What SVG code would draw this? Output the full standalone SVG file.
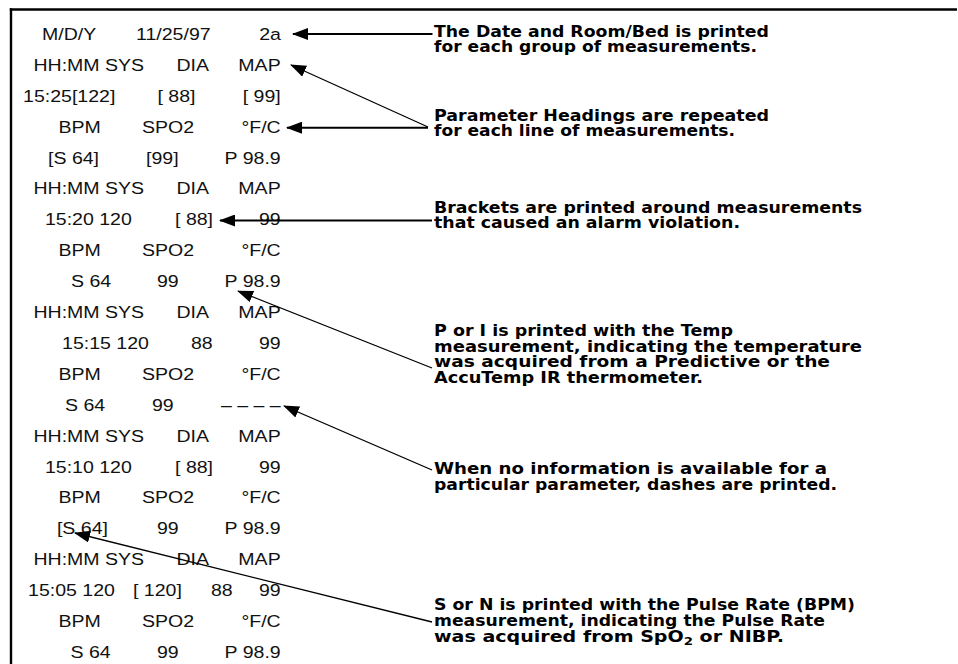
<svg xmlns="http://www.w3.org/2000/svg" width="958" height="664" viewBox="0 0 958 664">
<style>
.pt{font-family:"Liberation Sans",Arial,sans-serif;font-size:17.3px;fill:#111}
.e{text-anchor:end}
.an{font-family:"DejaVu Sans","Liberation Sans",sans-serif;font-size:15px;font-weight:bold;fill:#000}
.frame{stroke:#000;stroke-width:2.4;fill:none}
.h{stroke:#000;stroke-width:2;fill:none}
.d{stroke:#000;stroke-width:1.3;fill:none}
</style>
<defs>
<marker id="ah" viewBox="0 0 16 12" refX="15" refY="6" markerWidth="16" markerHeight="12" markerUnits="userSpaceOnUse" orient="auto-start-reverse">
<path d="M0,0 L16,6 L0,12 z" fill="#000"/>
</marker>
</defs>
<rect width="958" height="664" fill="#fff"/>
<g id="frame">
<line class="frame" x1="9.8" y1="9.5" x2="957" y2="9.5"/>
<line class="frame" x1="11" y1="8.3" x2="11" y2="664"/>
</g>
<g id="printout" transform="scale(1.13 1)">
<g id="row0"><text class="pt" x="37.2" y="40">M/D/Y</text><text class="pt" x="120.4" y="40">11/25/97</text><text class="pt e" x="248.6" y="40">2a</text></g>
<g id="row1"><text class="pt" x="29.6" y="70.9">HH:MM SYS</text><text class="pt" x="156.2" y="70.9">DIA</text><text class="pt e" x="248.4" y="70.9">MAP</text></g>
<g id="row2"><text class="pt" x="20.4" y="101.8">15:25[122]</text><text class="pt" x="139.4" y="101.8">[ 88]</text><text class="pt e" x="248.4" y="101.8">[ 99]</text></g>
<g id="row3"><text class="pt" x="51.8" y="132.7">BPM</text><text class="pt" x="125.7" y="132.7">SPO2</text><text class="pt e" x="248.4" y="132.7">°F/C</text></g>
<g id="row4"><text class="pt" x="42.5" y="163.6">[S 64]</text><text class="pt" x="129.2" y="163.6">[99]</text><text class="pt e" x="248.4" y="163.6">P 98.9</text></g>
<g id="row5"><text class="pt" x="29.6" y="194.5">HH:MM SYS</text><text class="pt" x="156.2" y="194.5">DIA</text><text class="pt e" x="248.4" y="194.5">MAP</text></g>
<g id="row6"><text class="pt" x="39.8" y="225.4">15:20 120</text><text class="pt" x="154.9" y="225.4">[ 88]</text><text class="pt e" x="248.4" y="225.4">99</text></g>
<g id="row7"><text class="pt" x="51.8" y="256.3">BPM</text><text class="pt" x="125.7" y="256.3">SPO2</text><text class="pt e" x="248.4" y="256.3">°F/C</text></g>
<g id="row8"><text class="pt" x="62.8" y="287.2">S 64</text><text class="pt" x="138.9" y="287.2">99</text><text class="pt e" x="248.4" y="287.2">P 98.9</text></g>
<g id="row9"><text class="pt" x="29.6" y="318.1">HH:MM SYS</text><text class="pt" x="156.2" y="318.1">DIA</text><text class="pt e" x="248.4" y="318.1">MAP</text></g>
<g id="row10"><text class="pt" x="54.9" y="349">15:15 120</text><text class="pt" x="169" y="349">88</text><text class="pt e" x="248.4" y="349">99</text></g>
<g id="row11"><text class="pt" x="51.8" y="379.9">BPM</text><text class="pt" x="125.7" y="379.9">SPO2</text><text class="pt e" x="248.4" y="379.9">°F/C</text></g>
<g id="row12"><text class="pt" x="57.5" y="410.8">S 64</text><text class="pt" x="134.5" y="410.8">99</text><text class="pt e" x="248.4" y="410.8">– – – –</text></g>
<g id="row13"><text class="pt" x="29.6" y="441.7">HH:MM SYS</text><text class="pt" x="156.2" y="441.7">DIA</text><text class="pt e" x="248.4" y="441.7">MAP</text></g>
<g id="row14"><text class="pt" x="39.8" y="472.6">15:10 120</text><text class="pt" x="154.9" y="472.6">[ 88]</text><text class="pt e" x="248.4" y="472.6">99</text></g>
<g id="row15"><text class="pt" x="51.8" y="503.5">BPM</text><text class="pt" x="125.7" y="503.5">SPO2</text><text class="pt e" x="248.4" y="503.5">°F/C</text></g>
<g id="row16"><text class="pt" x="50.4" y="534.4">[S 64]</text><text class="pt" x="138.9" y="534.4">99</text><text class="pt e" x="248.4" y="534.4">P 98.9</text></g>
<g id="row17"><text class="pt" x="29.6" y="565.3">HH:MM SYS</text><text class="pt" x="156.2" y="565.3">DIA</text><text class="pt e" x="248.4" y="565.3">MAP</text></g>
<g id="row18"><text class="pt" x="24.8" y="596.2">15:05 120</text><text class="pt" x="117.7" y="596.2">[ 120]</text><text class="pt" x="186.7" y="596.2">88</text><text class="pt e" x="248.4" y="596.2">99</text></g>
<g id="row19"><text class="pt" x="51.8" y="627.1">BPM</text><text class="pt" x="125.7" y="627.1">SPO2</text><text class="pt e" x="248.4" y="627.1">°F/C</text></g>
<g id="row20"><text class="pt" x="62.4" y="658">S 64</text><text class="pt" x="138.9" y="658">99</text><text class="pt e" x="248.4" y="658">P 98.9</text></g>
</g>
<g id="note-date">
<text class="an" x="434" y="37" textLength="335" lengthAdjust="spacingAndGlyphs">The Date and Room/Bed is printed</text>
<text class="an" x="434" y="52" textLength="323" lengthAdjust="spacingAndGlyphs">for each group of measurements.</text>
</g>
<g id="note-headings">
<text class="an" x="434" y="121" textLength="335" lengthAdjust="spacingAndGlyphs">Parameter Headings are repeated</text>
<text class="an" x="434" y="136" textLength="301" lengthAdjust="spacingAndGlyphs">for each line of measurements.</text>
</g>
<g id="note-brackets">
<text class="an" x="434" y="212.5" textLength="428" lengthAdjust="spacingAndGlyphs">Brackets are printed around measurements</text>
<text class="an" x="434" y="227.5" textLength="306" lengthAdjust="spacingAndGlyphs">that caused an alarm violation.</text>
</g>
<g id="note-temp">
<text class="an" x="434" y="336" textLength="299" lengthAdjust="spacingAndGlyphs">P or I is printed with the Temp</text>
<text class="an" x="434" y="351.5" textLength="428" lengthAdjust="spacingAndGlyphs">measurement, indicating the temperature</text>
<text class="an" x="434" y="367" textLength="396" lengthAdjust="spacingAndGlyphs">was acquired from a Predictive or the</text>
<text class="an" x="434" y="382.5" textLength="269" lengthAdjust="spacingAndGlyphs">AccuTemp IR thermometer.</text>
</g>
<g id="note-dashes">
<text class="an" x="434" y="474" textLength="393" lengthAdjust="spacingAndGlyphs">When no information is available for a</text>
<text class="an" x="434" y="489.5" textLength="403" lengthAdjust="spacingAndGlyphs">particular parameter, dashes are printed.</text>
</g>
<g id="note-pulse">
<text class="an" x="434" y="609.5" textLength="421" lengthAdjust="spacingAndGlyphs">S or N is printed with the Pulse Rate (BPM)</text>
<text class="an" x="434" y="625.5" textLength="391" lengthAdjust="spacingAndGlyphs">measurement, indicating the Pulse Rate</text>
<text class="an" x="434" y="641.5" textLength="350" lengthAdjust="spacingAndGlyphs">was acquired from SpO<tspan font-size="10.5" dy="3">2</tspan><tspan dy="-3"> or NIBP.</tspan></text>
</g>
<g id="connectors">
<path class="h" d="M293,34 H432.5" marker-start="url(#ah)"/>
<path class="d" d="M291,65 L428,127" marker-start="url(#ah)"/>
<path class="h" d="M287,127.7 H428" marker-start="url(#ah)"/>
<path class="h" d="M220,220.5 H432" marker-start="url(#ah)"/>
<path class="d" d="M238,291 L432,368" marker-start="url(#ah)"/>
<path class="d" d="M284,406 L432,470" marker-start="url(#ah)"/>
<path class="d" d="M75,533 L432,622" marker-start="url(#ah)"/>
</g>
</svg>
